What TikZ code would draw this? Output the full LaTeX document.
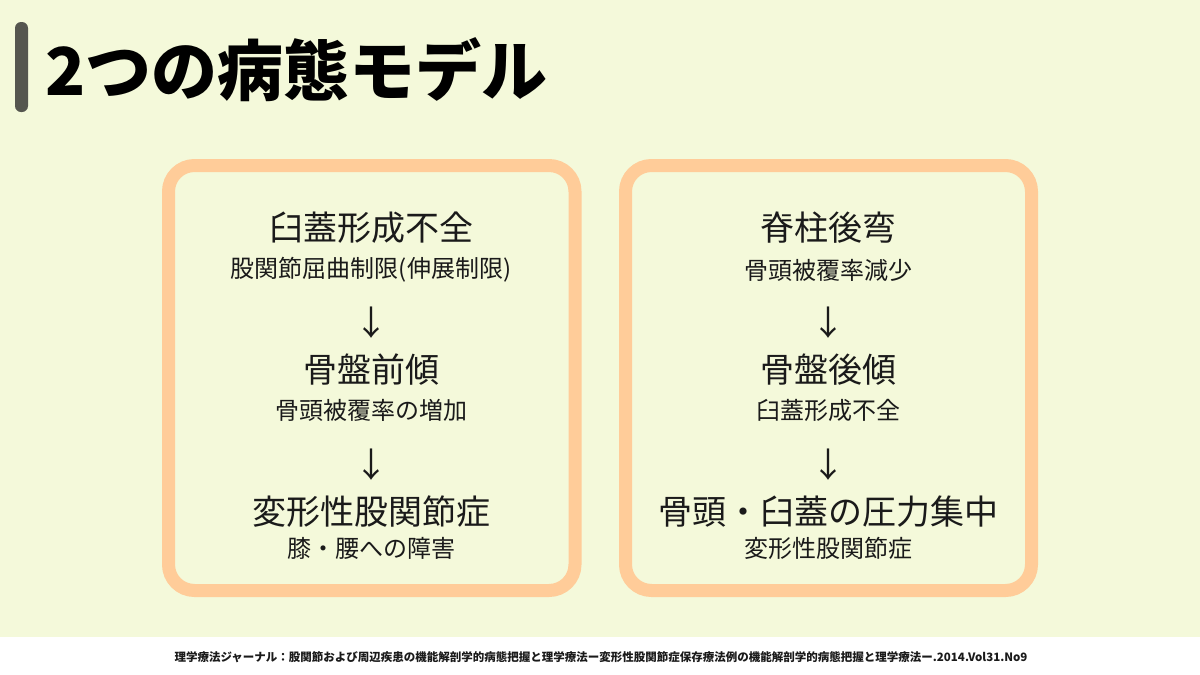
\documentclass[tikz,border=0pt]{standalone}
\usepackage{fontspec}
\setmainfont{Noto Sans CJK JP}
\definecolor{bgc}{HTML}{F4F9DA}
\definecolor{barc}{HTML}{55564F}
\definecolor{peach}{HTML}{FFCC99}
\definecolor{txt}{HTML}{1A1A1A}
\begin{document}
\begin{tikzpicture}[x=1pt,y=-1pt,
  panel/.style={draw=peach, line width=13pt, rounded corners=26pt},
  bigtxt/.style={font=\fontsize{34}{40}\selectfont, text=txt, inner sep=0pt},
  smalltxt/.style={font=\fontsize{24}{28}\selectfont, text=txt, inner sep=0pt},
  arrowtxt/.style={font=\fontsize{34}{40}\selectfont, text=txt, inner sep=0pt}]
\useasboundingbox (0,0) rectangle (1200,675);
\fill[bgc] (0,0) rectangle (1200,637);
\fill[white] (0,637) rectangle (1200,675);
\fill[barc, rounded corners=6pt] (15,22) rectangle (28,112);
\node[anchor=west, inner sep=0pt, font=\fontsize{66}{70}\selectfont\bfseries] (title) at (45,70) {2つの病態モデル};
% panels
\draw[panel] (168.5,165.5) rectangle (575,590.5);
\draw[panel] (625.5,165.5) rectangle (1031.5,590.5);
% left
\node[bigtxt] (l1) at (371,228) {臼蓋形成不全};
\node[smalltxt] (l1s) at (371,270) {股関節屈曲制限(伸展制限)};
\node[arrowtxt] (la1) at (371,323) {↓};
\node[bigtxt] (l2) at (371,370) {骨盤前傾};
\node[smalltxt] (l2s) at (371,410) {骨頭被覆率の増加};
\node[arrowtxt] (la2) at (371,465) {↓};
\node[bigtxt] (l3) at (371,512) {変形性股関節症};
\node[smalltxt] (l3s) at (371,548) {膝・腰への障害};
% right
\node[bigtxt] (r1) at (828.5,228) {脊柱後弯};
\node[smalltxt] (r1s) at (828.5,270) {骨頭被覆率減少};
\node[arrowtxt] (ra1) at (828.5,323) {↓};
\node[bigtxt] (r2) at (828.5,370) {骨盤後傾};
\node[smalltxt] (r2s) at (828.5,410) {臼蓋形成不全};
\node[arrowtxt] (ra2) at (828.5,465) {↓};
\node[bigtxt] (r3) at (828.5,512) {骨頭・臼蓋の圧力集中};
\node[smalltxt] (r3s) at (828.5,548) {変形性股関節症};
% footer
\node[inner sep=0pt, text=txt, font=\fontsize{11.5}{13}\selectfont\bfseries] (foot) at (601,657) {理学療法ジャーナル：股関節および周辺疾患の機能解剖学的病態把握と理学療法ー変形性股関節症保存療法例の機能解剖学的病態把握と理学療法ー.2014.Vol31.No9};
\end{tikzpicture}
\end{document}
